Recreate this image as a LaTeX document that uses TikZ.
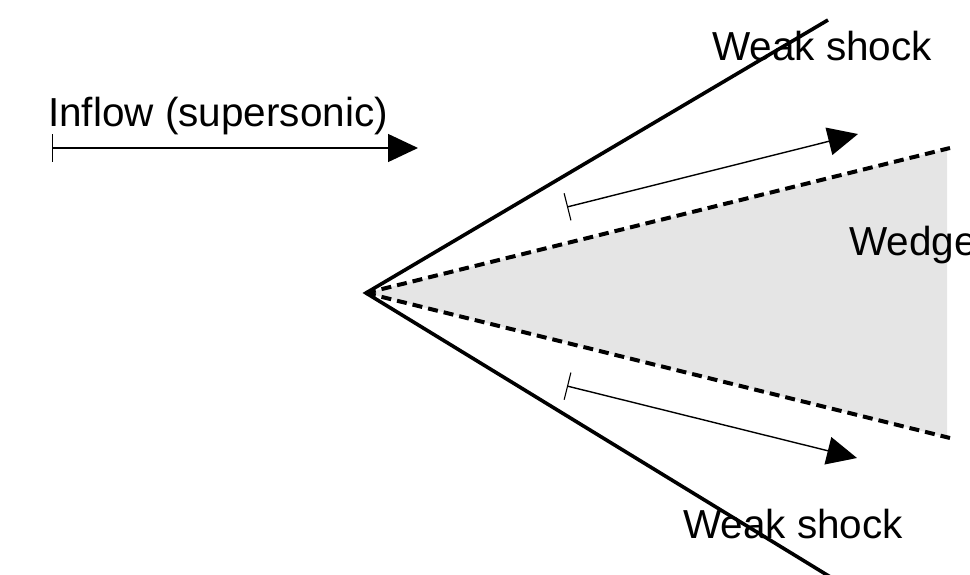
\documentclass[tikz,border=0pt]{standalone}
\usepackage{fontspec}
\setmainfont{Liberation Sans}
\usetikzlibrary{arrows.meta}
\begin{document}
\begin{tikzpicture}[x=1pt,y=-1pt,
  lbl/.style={anchor=base west, inner sep=0pt, font=\fontsize{40.5}{48}\selectfont},
  shock/.style={line width=3.6pt, miter limit=10},
  wedgeedge/.style={line width=4pt, dash pattern=on 10pt off 6pt},
  flow/.style={line width=1.4pt, {Bar[width=28pt,line width=1.1pt]}-{Triangle[length=30pt,width=28pt]}}]
\useasboundingbox (0,0) rectangle (970,575);
\clip (0,0) rectangle (970,575);
% key points
\coordinate (apex) at (366,293);
\coordinate (shockU) at (828,20);
\coordinate (shockL) at (832,578);
\coordinate (wedgeU) at (950,148);
\coordinate (wedgeL) at (950,438);
\coordinate (fillU) at (947,148.8);
\coordinate (fillL) at (947,437.3);
\coordinate (inS) at (52,148);
\coordinate (inE) at (418,148);
\coordinate (upS) at (567,207);
\coordinate (upE) at (858,134);
\coordinate (loS) at (567,386);
\coordinate (loE) at (857,458);
% wedge
\fill[black!10] (apex) -- (fillU) -- (fillL) -- cycle;
\draw[wedgeedge] (apex) -- (wedgeU);
\draw[wedgeedge] (apex) -- (wedgeL);
% shocks
\draw[shock] (shockU) -- (apex) -- (shockL);
% flow arrows
\draw[flow] (inS) -- (inE);
\draw[flow] (upS) -- (upE);
\draw[flow] (loS) -- (loE);
% labels
\node[lbl] (inflow) at (48,127) {Inflow (supersonic)};
\node[lbl] (weakU) at (712,61) {Weak shock};
\node[lbl] (weakL) at (683,538) {Weak shock};
\node[lbl] (wedge) at (849,255) {Wedge};
\end{tikzpicture}
\end{document}
